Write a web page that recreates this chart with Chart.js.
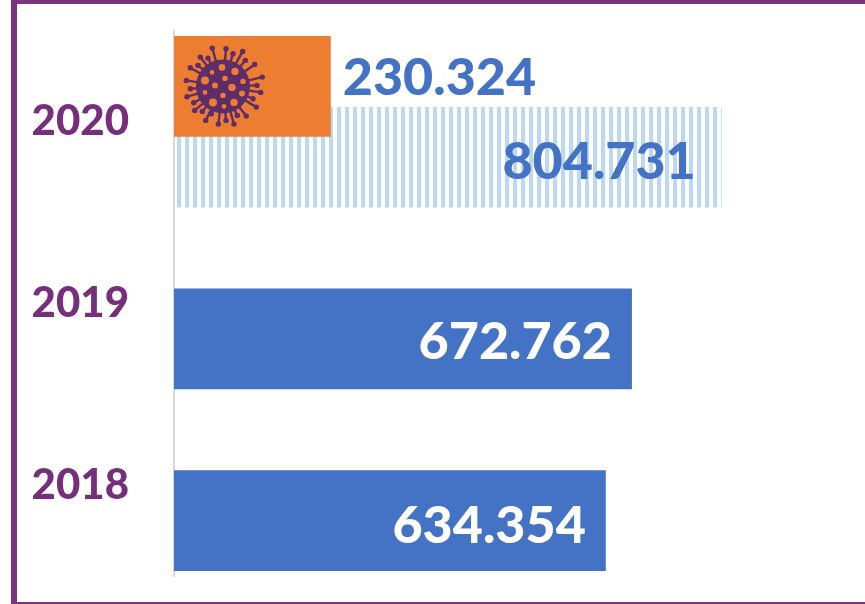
<!DOCTYPE html>
<html>
<head>
<meta charset="utf-8">
<style>
    html, body { margin: 0; padding: 0; background: #fff; overflow: hidden; }
    #wrap { position: relative; width: 865px; height: 604px; }
    #frame { position: absolute; left: 11px; top: 0; right: 0; bottom: 0; box-sizing: border-box;
             border-left: 6px solid #7b3580; border-top: 4px solid #7b3580; border-bottom: 2px solid #7b3580; pointer-events: none; }
</style>
</head>
<body>
<div id="wrap">
    <canvas id="chart" width="865" height="604"></canvas>
    <div id="frame"></div>
</div>
<script src="https://cdn.jsdelivr.net/npm/chart.js@4"></script>
<script>
const years = ["2020", "2019", "2018"];
const covidValues = [230324, null, null];
const totalValues = [804731, 672762, 634354];

const PURPLE = "#762f7a";
const BLUE = "#4472c4";
const ORANGE = "#ed7d31";
const FONT = "Lato, 'Noto Sans', sans-serif";

// vertical stripes for the 2020 bar
function stripes() {
    const c = document.createElement("canvas");
    c.width = 8;
    c.height = 8;
    const g = c.getContext("2d");
    g.fillStyle = "#bdd7ee";
    g.fillRect(1, 0, 4, 8);
    return g.createPattern(c, "repeat");
}

function fmt(v) {
    return String(v).replace(/\B(?=(\d{3})+$)/g, ".");
}

const valueLabels = {
    id: "valueLabels",
    afterDatasetsDraw(chart) {
        const ctx = chart.ctx;
        ctx.save();
        ctx.font = "900 52px " + FONT;
        ctx.textBaseline = "middle";
        // covid label sits outside the bar end
        chart.getDatasetMeta(0).data.forEach((bar, i) => {
            if (covidValues[i] == null) return;
            ctx.textAlign = "left";
            ctx.fillStyle = BLUE;
            ctx.fillText(fmt(covidValues[i]), bar.x + 12, bar.y - 8);
        });
        const dy = [5, 3, 6];
        chart.getDatasetMeta(1).data.forEach((bar, i) => {
            ctx.textAlign = "right";
            ctx.fillStyle = i === 0 ? BLUE : "#fff";
            ctx.fillText(fmt(totalValues[i]), bar.x - (i === 0 ? 26 : 20), bar.y + dy[i]);
        });
        ctx.restore();
    }
};

// virus icon on the orange bar, offsets from the icon centre
const spikes = [[-10.7,-38.3],[3,-37.7],[19.7,-35],[31.7,-22],[39.3,-9.3],[37.7,6],[33.3,20.7],[23.3,29.7],[11,37.7],[-4.7,37.7],[-17.3,34],[-28.3,24],[-36,10.3],[-36.7,-6],[-32.7,-18.7],[-22.7,-29.3],[-15,-28.3],[10,-32.7],[22.3,-26],[34,-1],[30,12.3],[14.3,29],[3,34],[-11.7,27.3],[-20.7,25],[-29.3,16.3],[-32.7,2.3],[-25,-21]];
const dots = [[-1,-19,3.3],[12,-15,3.7],[-11,-14,2.3],[-18,-6,4],[2,-8,2.7],[20,-5,2.7],[-8,-1,3],[9,1,3.7],[-18,6,2.3],[0,9,2.7],[19,7,3],[-10,16,4],[11,16,3.7],[1,20,2.3]];
const virusIcon = {
    id: "virusIcon",
    afterDatasetsDraw(chart) {
        const bar = chart.getDatasetMeta(0).data[0];
        const ctx = chart.ctx;
        const cx = bar.base + 49;
        const cy = bar.y;
        ctx.save();
        ctx.strokeStyle = "#5f2d69";
        ctx.fillStyle = "#5f2d69";
        ctx.lineWidth = 2.4;
        ctx.beginPath();
        ctx.arc(cx, cy, 27, 0, Math.PI * 2);
        ctx.fill();
        spikes.forEach(([dx, dy]) => {
            ctx.beginPath();
            ctx.moveTo(cx, cy);
            ctx.lineTo(cx + dx, cy + dy);
            ctx.stroke();
            ctx.beginPath();
            ctx.arc(cx + dx, cy + dy, 2.7, 0, Math.PI * 2);
            ctx.fill();
        });
        ctx.fillStyle = ORANGE;
        dots.forEach(([x, y, r]) => {
            ctx.beginPath();
            ctx.arc(cx + x, cy + y, r, 0, Math.PI * 2);
            ctx.fill();
        });
        ctx.restore();
    }
};

new Chart(document.getElementById("chart"), {
    type: "bar",
    data: {
        labels: years,
        datasets: [{
            label: "COVID",
            data: covidValues,
            backgroundColor: ORANGE,
            categoryPercentage: 0.78,
            barPercentage: 1.42,
        }, {
            label: "Total",
            data: totalValues,
            backgroundColor: [stripes(), BLUE, BLUE],
            categoryPercentage: 0.78,
            barPercentage: 1.42,
        }]
    },
    options: {
        indexAxis: "y",
        responsive: false,
        animation: false,
        layout: { padding: { top: 31, bottom: 28, right: 11, left: 0 } },
        scales: {
            x: {
                display: false,
                min: 0,
                max: 999000,
                grid: { display: false },
            },
            y: {
                grid: { display: false, drawTicks: false },
                border: { color: "#d9d9d9", width: 2 },
                afterFit: (axis) => {
                    axis.width = 174;
                    axis.paddingTop = 0;
                    axis.paddingBottom = 0;
                },
                ticks: {
                    padding: 45,
                    font: { family: FONT, size: 42, weight: "900" },
                    color: PURPLE,
                },
            },
        },
        plugins: {
            legend: { display: false },
            tooltip: { enabled: false },
        }
    },
    plugins: [valueLabels, virusIcon]
});
</script>
</body>
</html>
